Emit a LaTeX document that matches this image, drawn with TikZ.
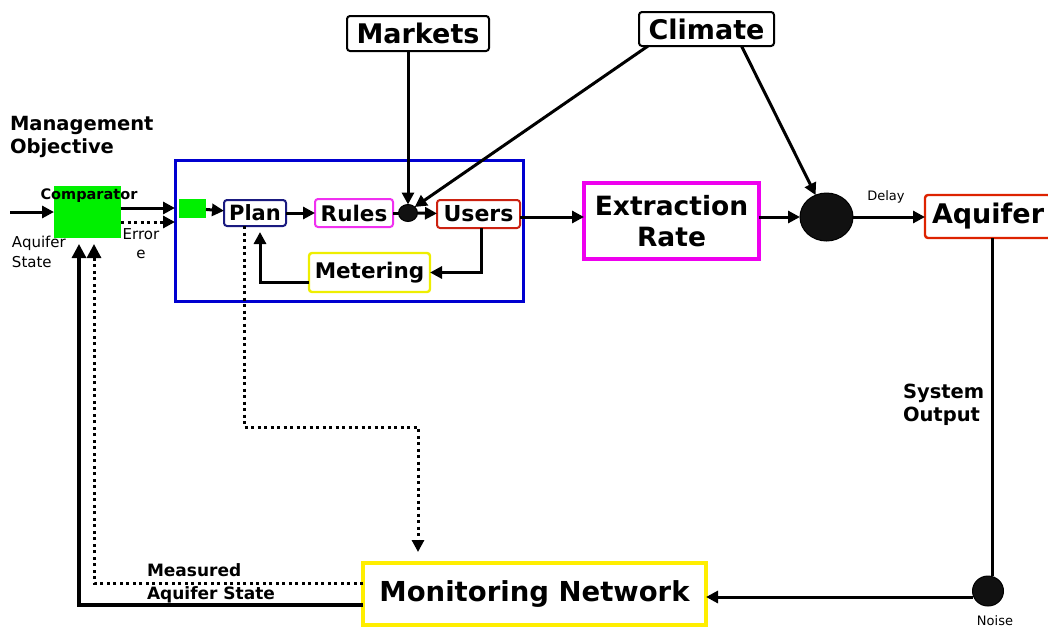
\documentclass[tikz,border=0pt]{standalone}
\usepackage{fontspec}
\setmainfont{DejaVu Sans}
\usetikzlibrary{arrows.meta,shapes.geometric}

\definecolor{cmpgreen}{HTML}{00F000}
\definecolor{frameblue}{HTML}{0000D0}
\definecolor{plannavy}{HTML}{1A1A80}
\definecolor{rulesmag}{HTML}{F030F0}
\definecolor{usersred}{HTML}{CC2211}
\definecolor{metyellow}{HTML}{EEEE00}
\definecolor{extrmag}{HTML}{EE00EE}
\definecolor{aqred}{HTML}{DD2200}
\definecolor{monyellow}{HTML}{FFEE00}
\definecolor{dotblack}{HTML}{111111}

\begin{document}
\begin{tikzpicture}[x=1pt,y=-1pt,
  every node/.style={inner sep=0pt, outer sep=0pt},
  fs/.style={font=\fontsize{#1}{#1}\selectfont},
  bfs/.style={font=\fontsize{#1}{#1}\selectfont\bfseries},
  rbox/.style={draw, rounded corners=3pt, line width=2pt, fill=white},
  sbox/.style={draw, line width=4pt, fill=white},
  blob/.style={ellipse, draw=black, line width=1pt, fill=dotblack},
  conn/.style={line width=3pt, -{Triangle[length=12pt,width=12pt]}},
  dots/.style={line width=3pt, dash pattern=on 3pt off 3.5pt},
  dotconn/.style={dots, -{Triangle[length=12pt,width=12pt]}},
]
\useasboundingbox (0,0) rectangle (1048,627);

% ---- left: objective and comparator ----
\node[bfs=19.5, align=left, anchor=north west] (mgmt) at (10,116)
  {Management\\[3.5pt]Objective};
\node[fill=cmpgreen, minimum width=67pt, minimum height=52pt] (comp) at (87.5,212) {};
\node[bfs=14.5] (complbl) at (89,196) {Comparator};
\node[fs=15, align=left, anchor=north west] (aqstate) at (12,236) {Aquifer\\[5pt]State};
\node[fs=15, align=center, anchor=north] (err) at (141,229) {Error\\[4pt]e};
\coordinate (ain) at (10,212);

% ---- management block ----
\node[draw=frameblue, line width=3pt, minimum width=348pt, minimum height=141pt] (blue) at (349,230.5) {};
\node[fill=cmpgreen, minimum width=27pt, minimum height=19pt] (sg) at (192.5,208.5) {};
\node[rbox, draw=plannavy, bfs=21, minimum width=62pt, minimum height=26pt] (plan) at (255,213) {Plan};
\node[rbox, draw=rulesmag, bfs=21.5, minimum width=78pt, minimum height=28pt] (rules) at (354,213) {Rules};
\node[blob, minimum width=19pt, minimum height=17pt] (dot) at (408,213) {};
\node[rbox, draw=usersred, bfs=22, minimum width=83pt, minimum height=28pt] (users) at (478.5,214) {Users};
\node[rbox, draw=metyellow, line width=2.4pt, bfs=21.5, minimum width=121pt, minimum height=39pt] (meter) at (369.5,272.5) {Metering};

% ---- drivers ----
\node[rbox, bfs=27, minimum width=142pt, minimum height=35pt] (markets) at (418,33.5) {Markets};
\node[rbox, bfs=27, minimum width=135pt, minimum height=34pt] (climate) at (706.5,29) {Climate};

% ---- physical system ----
\node[sbox, draw=extrmag, bfs=26.5, align=center, minimum width=175pt, minimum height=76pt] (extr) at (671.5,221)
  {Extraction\\[5pt]Rate};
\node[blob, minimum width=53pt, minimum height=48pt] (bigdot) at (826.5,217) {};
\node[fs=13] (delay) at (886,197) {Delay};
\node[rbox, draw=aqred, line width=2.4pt, bfs=27, minimum width=126pt, minimum height=43pt, text width=112pt, align=left] (aquifer) at (988,216.5) {Aquifer};
\node[bfs=19.5, align=left, anchor=north west] (sysout) at (903,384) {System\\[4pt]Output};
\node[blob, minimum width=31pt, minimum height=30pt] (noise) at (988,591) {};
\node[fs=13] (noiselbl) at (995,621) {Noise};
\node[sbox, draw=monyellow, bfs=27.5, minimum width=343pt, minimum height=62pt] (monitor) at (534.5,594) {Monitoring Network};
\node[bfs=17, align=left, anchor=north west] (measured) at (147,564) {Measured\\[6pt]Aquifer State};

\coordinate (bend) at (418,427);
\coordinate (mtop) at (418,552);

% ---- connectors ----
\draw[conn] (ain) -- (comp.west);
\draw[conn] ([yshift=4pt]comp.east) -- ([yshift=4pt]comp.east -| blue.west);
\draw[dotconn] ([yshift=-10pt]comp.east) -- ([yshift=-10pt]comp.east -| blue.west);
\draw[conn] (sg) -- (plan);
\draw[conn] (plan) -- (rules);
\draw[line width=3pt] (rules) -- (dot);
\draw[conn] (dot) -- (users);
\draw[conn] ([xshift=2.5pt]users.south) |- (meter.east);
\draw[conn] ([yshift=-9.5pt]meter.west) -| ([xshift=5pt,yshift=-6pt]plan.south);
\draw[conn] (dot |- markets.south) -- (dot.north);
\draw[conn] ([xshift=9pt]climate.south west) -- (dot.north east);
\draw[conn] ([xshift=35pt]climate.south) -- (bigdot);
\draw[conn] ([yshift=-3pt]users.east) -- ([yshift=-3pt]users.east -| extr.west);
\draw[conn] (extr.east |- bigdot) -- (bigdot);
\draw[conn] (bigdot) -- (bigdot -| aquifer.west);
\draw[line width=3pt] ([xshift=4pt]noise.center |- aquifer.south) -- ([xshift=4pt]noise.north);
\draw[conn] ([yshift=-6pt]noise.west) -- ([yshift=-6pt]noise.west -| monitor.east);
\draw[dotconn] ([xshift=-11pt]plan.south) |- (bend) -- (mtop);
\draw[line width=3.2pt, -{Triangle[length=14pt,width=14pt]}] ([yshift=-11pt]monitor.west) -| ([xshift=-8.5pt,yshift=-6pt]comp.south);
\draw[dotconn, -{Triangle[length=14pt,width=14pt]}] ([yshift=11pt]monitor.west) -| ([xshift=6.5pt,yshift=-6pt]comp.south);
\end{tikzpicture}
\end{document}
